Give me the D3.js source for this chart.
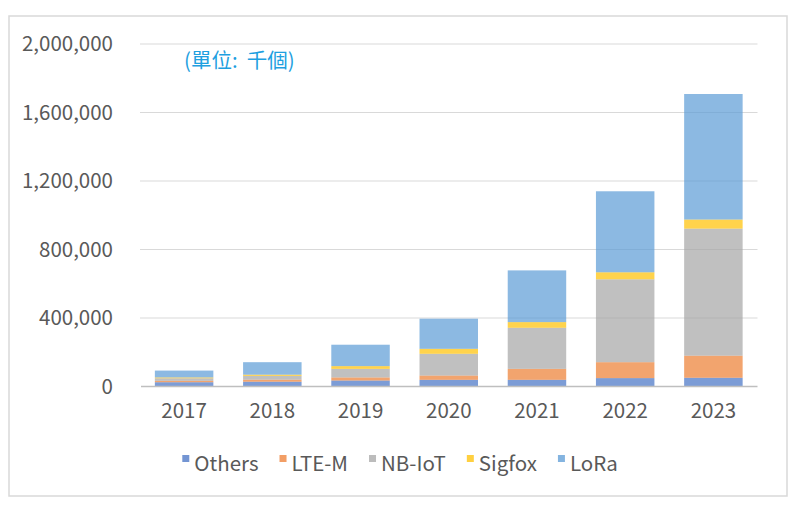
<!DOCTYPE html>
<html>
<head>
<meta charset="utf-8">
<script src="https://cdn.jsdelivr.net/npm/d3@7"></script>
<style>
  body { margin: 0; background: #fff; }
  text { font-family: "Noto Sans CJK TC", "Noto Sans", sans-serif; }
</style>
</head>
<body>
<div id="chart"></div>
<script>
// values in thousands of units
const years = ["2017", "2018", "2019", "2020", "2021", "2022", "2023"];
const seriesNames = ["Others", "LTE-M", "NB-IoT", "Sigfox", "LoRa"];
const others = [25000, 28000, 35000, 39000, 39000, 49000, 51000];
const lteM   = [8000, 12000, 18000, 25000, 64000, 93000, 129000];
const nbIot  = [15000, 22000, 50000, 127000, 240000, 484000, 742000];
const sigfox = [5000, 7000, 16000, 29000, 33000, 41000, 53000];
const lora   = [40000, 73000, 125000, 176000, 302000, 473000, 733000];
const yTicks = [0, 400000, 800000, 1200000, 1600000, 2000000];
const colours = ["#4472C4", "#ED7D31", "#A5A5A5", "#FFC000", "#5B9BD5"];
const unitLabel = "(單位:  千個)";

const width = 800, height = 508;
const plot = { left: 140, right: 757.5, top: 44, bottom: 386.5 };
const fontSize = 20.5;

const svg = d3.select("#chart").append("svg")
    .attr("width", width)
    .attr("height", height);

// outer frame
svg.append("rect")
    .attr("x", 9).attr("y", 16)
    .attr("width", 778).attr("height", 480)
    .attr("fill", "#fff")
    .attr("stroke", "#d9d9d9")
    .attr("stroke-width", 1.5);

const table = years.map((year, i) => ({
    year: year,
    "Others": others[i],
    "LTE-M": lteM[i],
    "NB-IoT": nbIot[i],
    "Sigfox": sigfox[i],
    "LoRa": lora[i]
}));

const x = d3.scaleBand()
    .domain(years)
    .range([plot.left, plot.right])
    .paddingInner(0.337)
    .paddingOuter(0.1685);

const y = d3.scaleLinear()
    .domain([0, 2000000])
    .range([plot.bottom, plot.top]);

const colour = d3.scaleOrdinal().domain(seriesNames).range(colours);

// gridlines
svg.append("g")
    .selectAll("line")
    .data(yTicks.slice(1))
    .enter()
    .append("line")
        .attr("x1", plot.left)
        .attr("x2", plot.right)
        .attr("y1", d => y(d))
        .attr("y2", d => y(d))
        .attr("stroke", "#d9d9d9")
        .attr("stroke-width", 1);

// y axis labels
const yAxis = d3.axisLeft(y)
    .tickValues(yTicks)
    .tickSize(0)
    .tickPadding(0)
    .tickFormat(d3.format(","));

svg.append("g")
    .attr("transform", "translate(113,0)")
    .call(yAxis)
    .call(g => g.select(".domain").remove())
    .selectAll("text")
        .attr("font-size", fontSize)
        .attr("fill", "#595959")
        .attr("font-family", "'Noto Sans CJK TC', 'Noto Sans', sans-serif");

// stacked bars
const stack = d3.stack().keys(seriesNames);
const layers = stack(table);

svg.append("g")
    .selectAll("g")
    .data(layers)
    .enter()
    .append("g")
        .attr("fill", d => colour(d.key))
        .attr("fill-opacity", 0.7)
    .selectAll("rect")
    .data(d => d)
    .enter()
    .append("rect")
        .attr("x", d => x(d.data.year))
        .attr("y", d => y(d[1]))
        .attr("width", x.bandwidth())
        .attr("height", d => y(d[0]) - y(d[1]));

// x axis
const xAxis = d3.axisBottom(x).tickSize(0).tickPadding(17);

svg.append("g")
    .attr("transform", `translate(0, ${ y(0) })`)
    .call(xAxis)
    .call(g => g.select(".domain")
        .attr("d", `M${ plot.left + 1 },0H${ plot.right }`)
        .attr("stroke", "#bfbfbf")
        .attr("stroke-width", 1.5))
    .selectAll("text")
        .attr("font-size", fontSize)
        .attr("fill", "#595959")
        .attr("font-family", "'Noto Sans CJK TC', 'Noto Sans', sans-serif");

// unit label
svg.append("text")
    .attr("x", 184)
    .attr("y", 68)
    .attr("font-size", fontSize)
    .attr("fill", "#1ea0e0")
    .style("white-space", "pre")
    .text(unitLabel);

// legend
const legend = svg.append("g");
let cursor = 0;
seriesNames.forEach(name => {
    legend.append("rect")
        .attr("x", cursor)
        .attr("y", 455)
        .attr("width", 7)
        .attr("height", 7)
        .attr("fill", colour(name))
        .attr("fill-opacity", 0.75);
    const label = legend.append("text")
        .attr("x", cursor + 12)
        .attr("y", 471)
        .attr("font-size", fontSize)
        .attr("fill", "#595959")
        .text(name);
    cursor += 12 + label.node().getComputedTextLength() + 21;
});
const legendWidth = cursor - 21;
legend.attr("transform", `translate(${ 400 - legendWidth / 2 }, 0)`);
</script>
</body>
</html>
